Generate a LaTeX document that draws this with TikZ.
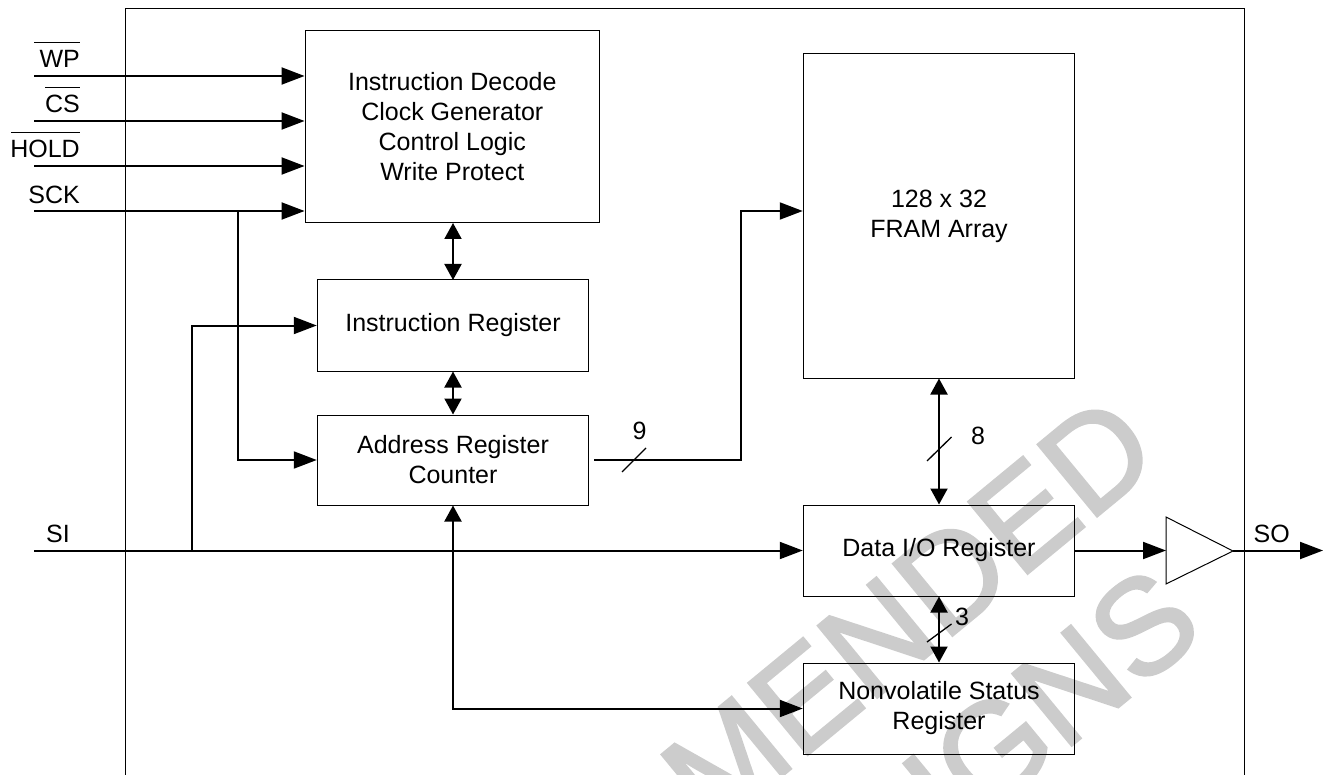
\documentclass[tikz,border=0pt]{standalone}
\usepackage{fontspec}
\setmainfont{Liberation Sans}
\newfontfamily\wmfont[FakeBold=2]{Liberation Sans}
\usetikzlibrary{arrows.meta,calc}
\tikzset{
  block/.style={draw=black,line width=1pt,inner sep=0pt,align=center,minimum width=#1},
  lab/.style={inner sep=0pt,anchor=base east},
  num/.style={inner sep=0pt,anchor=center},
  hsig/.style={line width=2pt,-{Triangle[length=23pt,width=17pt]}},
  vboth/.style={line width=2pt,{Triangle[length=16pt,width=17pt]}-{Triangle[length=16pt,width=17pt]}},
  vhead/.style={line width=2pt,{Triangle[length=16pt,width=17pt]}-{Triangle[length=23pt,width=17pt]}},
  slashline/.style={line width=1.3pt},
  wm/.style={inner sep=0pt,text=black!20,font=\wmfont\fontsize{135}{135}\selectfont,rotate=39.5}
}
\begin{document}
\begin{tikzpicture}[x=1pt,y=-1pt,every node/.append style={font=\fontsize{25}{30}\selectfont}]
\useasboundingbox (0,0) rectangle (1332,775);
\begin{scope}
\clip (0,0) rectangle (1332,775);
\node[wm,anchor=base east] (wma) at (1164,461) {MENDED};
\node[wm,anchor=base east] (wmb) at (1208,633) {IGNS};
\draw[line width=1pt] (125,775) -- (125,9) -- (1244.7,9) -- (1244.7,775);
\end{scope}
% blocks
\node[block=294.5pt,minimum height=192pt] (instr) at (452.3,127) {Instruction Decode\\Clock Generator\\Control Logic\\Write Protect};
\node[block=271.5pt,minimum height=91pt] (ireg) at (453,325.5) {Instruction Register};
\node[block=271.5pt,minimum height=90pt] (areg) at (453,460) {Address Register\\Counter};
\node[block=271.5pt,minimum height=324pt] (fram) at (939,216) {128 x 32\\FRAM Array};
\node[block=271.5pt,minimum height=91pt] (dreg) at (939,550.5) {Data I/O Register};
\node[block=271.5pt,minimum height=91pt] (nreg) at (939,708.5) {Nonvolatile Status\\Register};
\draw[line width=1pt] (1166,517) -- (1233,551) -- (1166,584) -- cycle;
\coordinate (bufin) at (1166,551);
\coordinate (bufout) at (1233,551);
% free ends
\coordinate (wp) at (34,76);
\coordinate (cs) at (34,121);
\coordinate (hold) at (34,166);
\coordinate (sck) at (34,211);
\coordinate (si) at (34,550.5);
\coordinate (so) at (1323,550.5);
\coordinate (sckb) at (238,211);
\coordinate (sib) at (192,550.5);
\coordinate (aout) at (594,460);
\coordinate (aturn) at (741,460);
% labels
\node[lab] (lwp) at (80,68) {WP};
\node[lab] (lcs) at (80,113) {CS};
\node[lab] (lhold) at (80,158) {HOLD};
\node[lab] (lsck) at (80,204) {SCK};
\node[lab] (lsi) at (70,542) {SI};
\node[lab] (lso) at (1290,542) {SO};
\draw[slashline] (34,42.3) -- (80,42.3);
\draw[slashline] (45,87.3) -- (80,87.3);
\draw[slashline] (11,132.3) -- (80,132.3);
\node[num] (n9) at (639.5,431) {9};
\node[num] (n8) at (978,436) {8};
\node[num] (n3) at (962,617) {3};
% connectors
\draw[hsig] (wp) -- (wp -| instr.west);
\draw[hsig] (cs) -- (cs -| instr.west);
\draw[hsig] (hold) -- (hold -| instr.west);
\draw[hsig] (sck) -- (sck -| instr.west);
\draw[hsig] (sckb) -- (sckb |- areg.west) -- (areg.west);
\draw[hsig] (si) -- (si -| dreg.west);
\draw[hsig] (sib) -- (sib |- ireg.west) -- (ireg.west);
\draw[vboth] (453,223) -- (453,280);
\draw[vboth] (ireg.south) -- (areg.north);
\draw[vhead] (areg.south) -- (areg.south |- nreg.west) -- (nreg.west);
\draw[hsig] (aout) -- (aturn) -- (aturn |- 0,211) -- (fram.west |- 0,211);
\draw[vboth] (fram.south) -- (dreg.north);
\draw[vboth] (dreg.south) -- (nreg.north);
\draw[hsig] (dreg.east |- so) -- (bufin |- so);
\draw[hsig] (bufout |- so) -- (so);
% bus slashes
\draw[slashline] (622,472) -- (646,448);
\draw[slashline] (927,461) -- (951.5,437);
\draw[slashline] (927,642) -- (951.5,624);
\end{tikzpicture}
\end{document}
